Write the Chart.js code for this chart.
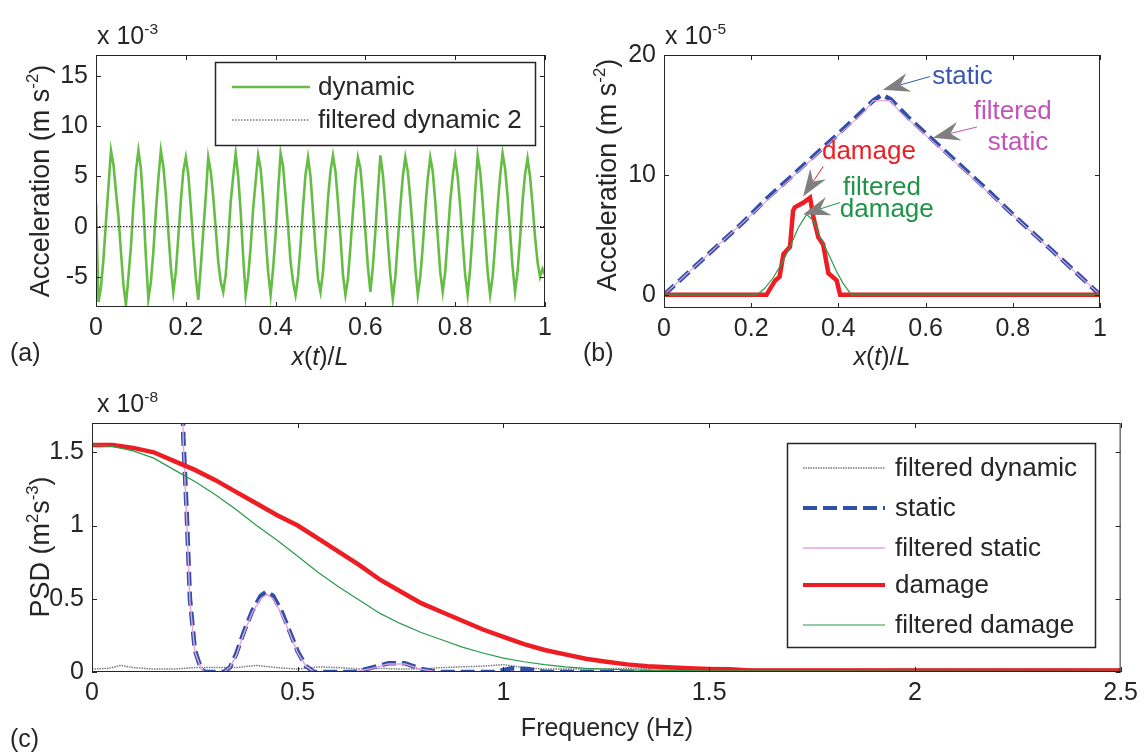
<!DOCTYPE html>
<html>
<head>
<meta charset="utf-8">
<script src="https://cdn.jsdelivr.net/npm/chart.js@4.4.1/dist/chart.umd.min.js"></script>
<style>
  html, body { margin: 0; padding: 0; background: #fff; }
  #wrap { position: relative; width: 1144px; height: 752px; overflow: hidden; }
  canvas { position: absolute; }
</style>
</head>
<body>
<div id="wrap">
  <canvas id="chartA" width="572" height="376" style="left:0;top:0"></canvas>
  <canvas id="chartB" width="572" height="376" style="left:572px;top:0"></canvas>
  <canvas id="chartC" width="1144" height="376" style="left:0;top:376px"></canvas>
</div>
<script>
// (a) dynamic acceleration (x 1e-3), evenly sampled over x(t)/L = 0..1
const dynamicAcc = [
  2.4, -7.5, -6.0, -3.2, 0.5, 4.0, 7.6, 6.2, 3.5, 1.0,
  -2.5, -5.8, -7.8, -5.0, -2.0, 2.2, 5.5, 7.6, 5.8, 2.0,
  -3.0, -7.2, -5.5, -2.5, 1.5, 4.8, 7.6, 6.0, 3.2, -0.5,
  -4.0, -6.5, -4.5, -1.0, 2.5, 5.5, 6.9, 5.2, 2.0, -1.8,
  -5.0, -7.3, -4.0, -0.5, 3.0, 6.9, 5.5, 3.0, -0.2, -3.5,
  -5.5, -6.5, -4.8, -1.5, 2.5, 5.0, 7.3, 5.0, 1.5, -3.0,
  -6.8, -5.0, -2.0, 1.8, 4.5, 7.1, 5.8, 2.8, -1.0, -4.5,
  -6.8, -4.2, -0.8, 3.5, 7.3, 6.0, 3.0, 0.0, -3.5, -5.5,
  -6.8, -5.0, -1.8, 2.0, 5.2, 6.9, 5.0, 1.5, -2.2, -5.2,
  -6.5, -4.5, -1.0, 2.8, 5.5, 7.1, 5.5, 2.5, -1.0, -4.8,
  -6.8, -5.2, -2.0, 1.5, 4.8, 6.9, 5.8, 3.0, -0.5, -4.0,
  -6.5, -4.0, -0.5, 3.5, 7.1, 5.2, 2.2, -1.5, -4.8, -7.2,
  -5.0, -1.5, 2.0, 5.0, 6.9, 5.5, 2.8, -0.5, -4.0, -6.8,
  -5.0, -2.0, 1.8, 4.8, 6.9, 5.5, 2.5, -1.0, -4.5, -6.5,
  -4.5, -1.0, 2.5, 5.0, 6.9, 5.0, 2.0, -1.5, -4.8, -6.8,
  -4.2, -0.5, 3.5, 7.1, 5.5, 2.5, -1.0, -4.5, -6.8, -5.0,
  -1.8, 2.0, 5.0, 7.3, 5.8, 3.0, -0.5, -4.0, -6.5, -4.5,
  -1.2, 2.5, 5.2, 6.8, 5.0, 2.2, -1.0, -3.5, -5.0, -4.2,
  -4.8
];
const filtDyn2X = [0, 1];
const filtDyn2Acc = [0, 0];
const aXTicks = [0, 0.2, 0.4, 0.6, 0.8, 1];
const aYTicks = [-5, 0, 5, 10, 15];

// (b) quasi-static acceleration (x 1e-5)
const staticX = [0, 0.06, 0.12, 0.18, 0.235, 0.29, 0.335, 0.39, 0.44, 0.48, 0.5, 0.52, 0.56, 0.62, 0.68, 0.74, 0.8, 0.86, 0.92, 1];
const staticAcc = [0, 2.0, 4.0, 6.0, 8.0, 9.8, 11.3, 13.1, 14.8, 16.2, 16.7, 16.3, 14.8, 12.8, 10.8, 8.8, 6.7, 4.7, 2.7, 0];
const filtStaticX = [0, 0.12, 0.24, 0.36, 0.46, 0.48, 0.52, 0.54, 0.64, 0.76, 0.88, 1];
const filtStaticAcc = [0, 4.0, 8.0, 12.0, 15.3, 16.2, 16.2, 15.3, 12.0, 8.0, 4.0, 0];
const damageX = [0, 0.235, 0.245, 0.255, 0.265, 0.274, 0.289, 0.296, 0.3, 0.32, 0.335, 0.343, 0.354, 0.365, 0.377, 0.396, 0.404, 1];
const damageAcc = [0, 0, 0.6, 1.2, 1.5, 3.4, 4.0, 7.0, 7.3, 7.7, 8.1, 6.4, 4.8, 4.2, 1.8, 1.2, 0, 0];
const filtDamageX = [0, 0.213, 0.23, 0.25, 0.27, 0.289, 0.308, 0.327, 0.343, 0.358, 0.38, 0.395, 0.41, 0.43, 1];
const filtDamageAcc = [0, 0, 0.5, 1.4, 2.6, 4.0, 5.6, 6.7, 6.2, 4.8, 3.2, 2.0, 1.0, 0, 0];
const bXTicks = [0, 0.2, 0.4, 0.6, 0.8, 1];
const bYTicks = [0, 10, 20];

// (c) power spectral densities (x 1e-8)
const psdFiltDynF = [0, 0.04, 0.07, 0.1, 0.15, 0.2, 0.25, 0.3, 0.35, 0.4, 0.45, 0.5, 0.55, 0.6, 0.65, 0.7, 0.75, 0.8, 0.85, 0.9, 0.95, 1.0, 1.05, 1.1, 1.2, 1.3, 1.4, 1.5, 1.6, 1.8, 2.0, 2.2, 2.5];
const psdFiltDyn = [0.02, 0.025, 0.045, 0.03, 0.02, 0.02, 0.03, 0.03, 0.03, 0.045, 0.03, 0.02, 0.035, 0.03, 0.02, 0.025, 0.02, 0.02, 0.03, 0.035, 0.04, 0.05, 0.03, 0.02, 0.02, 0.025, 0.02, 0.025, 0.02, 0.02, 0.02, 0.02, 0.02];
const psdStaticF = [0.19, 0.215, 0.222, 0.23, 0.238, 0.25, 0.265, 0.275, 0.32, 0.335, 0.35, 0.37, 0.39, 0.41, 0.425, 0.44, 0.46, 0.48, 0.5, 0.52, 0.54, 0.64, 0.68, 0.72, 0.76, 0.8, 0.84, 0.98, 1.02, 1.06, 1.1, 2.5];
const psdStatic = [3.0, 2.5, 1.6, 1.1, 0.5, 0.15, 0.02, 0, 0, 0.03, 0.12, 0.28, 0.42, 0.52, 0.55, 0.52, 0.42, 0.28, 0.14, 0.04, 0, 0, 0.03, 0.06, 0.06, 0.02, 0, 0, 0.025, 0.02, 0, 0];
const psdFiltStaticF = [0.19, 0.215, 0.222, 0.23, 0.238, 0.25, 0.265, 0.275, 0.32, 0.335, 0.35, 0.37, 0.39, 0.41, 0.425, 0.44, 0.46, 0.48, 0.5, 0.52, 0.54, 0.64, 0.68, 0.72, 0.76, 0.8, 0.84, 2.5];
const psdFiltStatic = [3.0, 2.45, 1.55, 1.05, 0.48, 0.14, 0.02, 0, 0, 0.03, 0.11, 0.27, 0.41, 0.5, 0.53, 0.5, 0.4, 0.27, 0.13, 0.04, 0, 0, 0.025, 0.055, 0.055, 0.02, 0, 0];
const psdDamageF = [0, 0.05, 0.1, 0.15, 0.2, 0.25, 0.3, 0.35, 0.4, 0.45, 0.5, 0.55, 0.6, 0.65, 0.7, 0.75, 0.8, 0.85, 0.9, 0.95, 1.0, 1.05, 1.1, 1.15, 1.2, 1.25, 1.3, 1.35, 1.4, 1.45, 1.5, 1.55, 1.6, 2.0, 2.5];
const psdDamage = [1.55, 1.55, 1.53, 1.5, 1.44, 1.38, 1.31, 1.23, 1.15, 1.07, 1.0, 0.91, 0.82, 0.73, 0.63, 0.55, 0.47, 0.41, 0.35, 0.29, 0.24, 0.19, 0.15, 0.12, 0.09, 0.07, 0.052, 0.04, 0.032, 0.025, 0.02, 0.018, 0.01, 0.01, 0.01];
const psdFiltDamageF = [0, 0.05, 0.1, 0.15, 0.2, 0.25, 0.3, 0.35, 0.4, 0.45, 0.5, 0.55, 0.6, 0.65, 0.7, 0.75, 0.8, 0.85, 0.9, 0.95, 1.0, 1.05, 1.1, 1.15, 1.2, 1.3, 1.4, 1.5, 2.5];
const psdFiltDamage = [1.55, 1.54, 1.51, 1.46, 1.38, 1.3, 1.21, 1.11, 1.0, 0.9, 0.79, 0.68, 0.58, 0.49, 0.4, 0.33, 0.27, 0.22, 0.17, 0.13, 0.095, 0.07, 0.05, 0.035, 0.025, 0.015, 0.01, 0.008, 0.005];
const cXTicks = [0, 0.5, 1, 1.5, 2, 2.5];
const cYTicks = [0, 0.5, 1, 1.5];

const FONT = '"Liberation Sans", Arial, Helvetica, sans-serif';
const INK = '#262626';
Chart.defaults.font.family = FONT;
Chart.defaults.color = INK;

const pts = (xs, ys) => ys.map((y, i) => ({ x: xs[i], y }));

// text with italic / superscript runs, drawn from a baseline
function runWidth(ctx, parts, size) {
  let w = 0;
  parts.forEach(p => {
    ctx.font = `${p.it ? 'italic ' : ''}${p.sup ? size * 0.62 : size}px ${FONT}`;
    w += ctx.measureText(p.t).width;
  });
  return w;
}
function drawRuns(ctx, parts, x, y, size, align) {
  let cx = align === 'center' ? x - runWidth(ctx, parts, size) / 2 : x;
  ctx.textAlign = 'left';
  ctx.textBaseline = 'alphabetic';
  parts.forEach(p => {
    ctx.font = `${p.it ? 'italic ' : ''}${p.sup ? size * 0.62 : size}px ${FONT}`;
    ctx.fillText(p.t, cx, p.sup ? y - size * 0.42 : y);
    cx += ctx.measureText(p.t).width;
  });
}

// box with inward ticks on all four sides, plus axis titles and panel tag
const framePlugin = {
  id: 'frame',
  afterDraw(chart, args, o) {
    const { ctx, chartArea: a } = chart;
    const sx = chart.scales.x, sy = chart.scales.y;
    ctx.save();
    ctx.strokeStyle = INK;
    ctx.lineWidth = 1;
    ctx.strokeRect(a.left + 0.5, a.top + 0.5, a.width - 1, a.height - 1);
    ctx.beginPath();
    const len = 5;
    sx.ticks.forEach(t => {
      const px = Math.round(sx.getPixelForValue(t.value)) + 0.5;
      ctx.moveTo(px, a.bottom); ctx.lineTo(px, a.bottom - len);
      ctx.moveTo(px, a.top); ctx.lineTo(px, a.top + len);
    });
    sy.ticks.forEach(t => {
      const py = Math.round(sy.getPixelForValue(t.value)) + 0.5;
      ctx.moveTo(a.left, py); ctx.lineTo(a.left + len, py);
      ctx.moveTo(a.right, py); ctx.lineTo(a.right - len, py);
    });
    ctx.stroke();

    ctx.fillStyle = INK;
    const e = o.exponent;
    drawRuns(ctx, [{ t: 'x 10' }, { t: e.power, sup: true }], e.x, e.y, 25, 'left');
    drawRuns(ctx, o.xTitle.parts, o.xTitle.x, o.xTitle.y, 25, 'center');
    ctx.save();
    ctx.translate(o.yTitle.x, o.yTitle.y);
    ctx.rotate(-Math.PI / 2);
    drawRuns(ctx, o.yTitle.parts, 0, 9, 27, 'center');
    ctx.restore();
    drawRuns(ctx, [{ t: o.tag.t }], o.tag.x, o.tag.y, 25, 'left');
    ctx.restore();
  }
};

// framed legend drawn inside the plot
const boxLegend = {
  id: 'boxLegend',
  afterDraw(chart, args, o) {
    if (!o.items) return;
    const { ctx } = chart;
    ctx.save();
    ctx.fillStyle = '#fff';
    ctx.fillRect(o.left, o.top, o.right - o.left, o.bottom - o.top);
    ctx.strokeStyle = INK;
    ctx.lineWidth = 1.5;
    ctx.strokeRect(o.left + 0.5, o.top + 0.5, o.right - o.left, o.bottom - o.top);
    o.items.forEach((idx, i) => {
      const ds = chart.data.datasets[idx];
      const y = o.rows[i];
      ctx.beginPath();
      ctx.strokeStyle = ds.borderColor;
      ctx.lineWidth = Math.min(ds.borderWidth, 4);
      ctx.setLineDash(ds.borderDash || []);
      ctx.moveTo(o.lineFrom, y);
      ctx.lineTo(o.lineTo, y);
      ctx.stroke();
      ctx.setLineDash([]);
      ctx.fillStyle = INK;
      ctx.font = `${o.size}px ${FONT}`;
      ctx.textAlign = 'left';
      ctx.textBaseline = 'middle';
      ctx.fillText(ds.label, o.textX, y + 1);
    });
    ctx.restore();
  }
};

// labelled arrows pointing at curves, placed in data units
const callouts = {
  id: 'callouts',
  afterDatasetsDraw(chart, args, o) {
    if (!o.items) return;
    const { ctx } = chart;
    const sx = chart.scales.x, sy = chart.scales.y;
    ctx.save();
    o.items.forEach(c => {
      const tx = sx.getPixelForValue(c.tip[0]), ty = sy.getPixelForValue(c.tip[1]);
      const fx = sx.getPixelForValue(c.tail[0]), fy = sy.getPixelForValue(c.tail[1]);
      const ang = Math.atan2(ty - fy, tx - fx);
      const L = 27, W = 9.5, N = 18;
      const bx = tx - N * Math.cos(ang), by = ty - N * Math.sin(ang);
      ctx.beginPath();
      ctx.strokeStyle = c.color;
      ctx.lineWidth = 1;
      ctx.moveTo(fx, fy);
      ctx.lineTo(bx, by);
      ctx.stroke();
      ctx.save();
      ctx.translate(tx, ty);
      ctx.rotate(ang);
      ctx.beginPath();
      ctx.moveTo(0, 0);
      ctx.lineTo(-L, -W);
      ctx.lineTo(-N, 0);
      ctx.lineTo(-L, W);
      ctx.closePath();
      ctx.fillStyle = '#7f7f7f';
      ctx.fill();
      ctx.restore();
      ctx.fillStyle = c.color;
      ctx.font = `26px ${FONT}`;
      ctx.textBaseline = 'middle';
      c.lines.forEach(l => {
        ctx.textAlign = l.align || 'center';
        ctx.fillText(l.t, sx.getPixelForValue(l.at[0]), sy.getPixelForValue(l.at[1]));
      });
    });
    ctx.restore();
  }
};

function scalesFor(xr, yr, xTicks, yTicks, yWidth, xHeight) {
  return {
    x: {
      type: 'linear', min: xr[0], max: xr[1],
      grid: { display: false, drawTicks: false },
      border: { display: false },
      afterBuildTicks: s => { s.ticks = xTicks.map(v => ({ value: v })); },
      afterFit: s => { s.height = xHeight; },
      ticks: { font: { size: 25 }, color: INK, padding: 6, maxRotation: 0, callback: v => String(v) }
    },
    y: {
      type: 'linear', min: yr[0], max: yr[1],
      grid: { display: false, drawTicks: false },
      border: { display: false },
      afterBuildTicks: s => { s.ticks = yTicks.map(v => ({ value: v })); },
      afterFit: s => { s.width = yWidth; },
      ticks: { font: { size: 25 }, color: INK, padding: 8, callback: v => String(v) }
    }
  };
}

const base = {
  responsive: false,
  animation: false,
  events: [],
  elements: { point: { radius: 0 }, line: { tension: 0 } }
};

// (a)
new Chart(document.getElementById('chartA'), {
  type: 'line',
  data: {
    datasets: [
      { label: 'dynamic', data: dynamicAcc.map((y, i) => ({ x: i / (dynamicAcc.length - 1), y })),
        borderColor: '#66bd45', borderWidth: 2.6, order: 2 },
      { label: 'filtered dynamic 2', data: pts(filtDyn2X, filtDyn2Acc),
        borderColor: '#333333', borderWidth: 1.2, borderDash: [1.5, 1.5], order: 1 }
    ]
  },
  options: {
    ...base,
    layout: { autoPadding: false, padding: { top: 55, right: 27, left: 0, bottom: 0 } },
    scales: scalesFor([0, 1], [-8, 17.1], aXTicks, aYTicks, 96, 69),
    plugins: {
      legend: { display: false }, tooltip: { enabled: false },
      frame: {
        exponent: { x: 97, y: 44, power: '-3' },
        xTitle: { parts: [{ t: 'x', it: true }, { t: '(' }, { t: 't', it: true }, { t: ')/' }, { t: 'L', it: true }], x: 320, y: 365 },
        yTitle: { parts: [{ t: 'Acceleration (m s' }, { t: '-2', sup: true }, { t: ')' }], x: 40, y: 181 },
        tag: { t: '(a)', x: 10, y: 361 }
      },
      boxLegend: { left: 215, top: 62, right: 535, bottom: 145, rows: [87, 120], lineFrom: 232, lineTo: 310, textX: 318, size: 26, items: [0, 1] }
    }
  },
  plugins: [framePlugin, boxLegend]
});

// (b)
new Chart(document.getElementById('chartB'), {
  type: 'line',
  data: {
    datasets: [
      { label: 'static', data: pts(staticX, staticAcc), borderColor: '#3050a8', borderWidth: 4.5, borderDash: [14, 6], order: 4 },
      { label: 'filtered static', data: pts(filtStaticX, filtStaticAcc), borderColor: '#e3a3df', borderWidth: 1.2, order: 3 },
      { label: 'damage', data: pts(damageX, damageAcc), borderColor: '#ee1d24', borderWidth: 4.5, order: 2 },
      { label: 'filtered damage', data: pts(filtDamageX, filtDamageAcc), borderColor: '#2a9a4c', borderWidth: 1.2, order: 1 }
    ]
  },
  options: {
    ...base,
    layout: { autoPadding: false, padding: { top: 55, right: 44, left: 0, bottom: 0 } },
    scales: scalesFor([0, 1], [-1.1, 20], bXTicks, bYTicks, 92, 68),
    plugins: {
      legend: { display: false }, tooltip: { enabled: false },
      frame: {
        exponent: { x: 93, y: 44, power: '-5' },
        xTitle: { parts: [{ t: 'x', it: true }, { t: '(' }, { t: 't', it: true }, { t: ')/' }, { t: 'L', it: true }], x: 310, y: 365 },
        yTitle: { parts: [{ t: 'Acceleration (m s' }, { t: '-2', sup: true }, { t: ')' }], x: 35, y: 175 },
        tag: { t: '(b)', x: 11, y: 361 }
      },
      callouts: {
        items: [
          { tip: [0.502, 17.1], tail: [0.61, 18.2], color: '#3a58b0', lines: [{ t: 'static', at: [0.615, 18.2], align: 'left' }] },
          { tip: [0.617, 13.1], tail: [0.718, 14.0], color: '#c452b8', lines: [{ t: 'filtered', at: [0.8, 15.25] }, { t: 'static', at: [0.812, 12.7] }] },
          { tip: [0.319, 8.2], tail: [0.365, 10.7], color: '#ee1d24', lines: [{ t: 'damage', at: [0.47, 11.9] }] },
          { tip: [0.319, 6.7], tail: [0.404, 7.7], color: '#1e9446', lines: [{ t: 'filtered', at: [0.5, 8.9] }, { t: 'damage', at: [0.511, 7.1] }] }
        ]
      }
    }
  },
  plugins: [framePlugin, callouts]
});

// (c)
new Chart(document.getElementById('chartC'), {
  type: 'line',
  data: {
    datasets: [
      { label: 'filtered dynamic', data: pts(psdFiltDynF, psdFiltDyn), borderColor: '#7a7a7a', borderWidth: 1.5, borderDash: [1.5, 1], order: 5 },
      { label: 'static', data: pts(psdStaticF, psdStatic), borderColor: '#3050a8', borderWidth: 4.5, borderDash: [14, 6], order: 4 },
      { label: 'filtered static', data: pts(psdFiltStaticF, psdFiltStatic), borderColor: '#e3a3df', borderWidth: 1.4, order: 3 },
      { label: 'damage', data: pts(psdDamageF, psdDamage), borderColor: '#ee1d24', borderWidth: 4.5, order: 2 },
      { label: 'filtered damage', data: pts(psdFiltDamageF, psdFiltDamage), borderColor: '#2a9a4c', borderWidth: 1.2, order: 1 }
    ]
  },
  options: {
    ...base,
    layout: { autoPadding: false, padding: { top: 47, right: 22, left: 0, bottom: 0 } },
    scales: scalesFor([0, 2.5], [0, 1.7], cXTicks, cYTicks, 92, 80),
    plugins: {
      legend: { display: false }, tooltip: { enabled: false },
      frame: {
        exponent: { x: 97, y: 36, power: '-8' },
        xTitle: { parts: [{ t: 'Frequency (Hz)' }], x: 607, y: 360 },
        yTitle: { parts: [{ t: 'PSD (m' }, { t: '2', sup: true }, { t: 's' }, { t: '-3', sup: true }, { t: ')' }], x: 40, y: 171 },
        tag: { t: '(c)', x: 10, y: 371 }
      },
      boxLegend: { left: 787, top: 67, right: 1095, bottom: 271, rows: [92, 132, 172, 209, 249], lineFrom: 803, lineTo: 885, textX: 895, size: 26, items: [0, 1, 2, 3, 4] }
    }
  },
  plugins: [framePlugin, boxLegend]
});
</script>
</body>
</html>
